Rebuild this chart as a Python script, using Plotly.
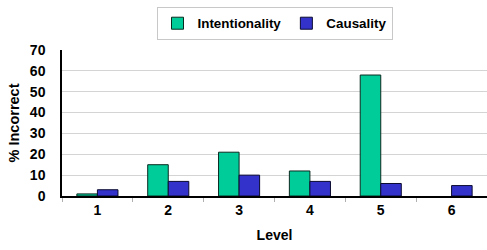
import plotly.graph_objects as go

levels = ["1", "2", "3", "4", "5", "6"]
intentionality = [1, 15, 21, 12, 58, None]
causality = [3, 7, 10, 7, 6, 5]
y_ticks = [0, 10, 20, 30, 40, 50, 60, 70]

FAM = "Liberation Sans, Arial, sans-serif"
bold14 = dict(family=FAM, size=14, color="black", weight="bold")

fig = go.Figure()
fig.add_trace(go.Bar(name="Intentionality", x=levels, y=intentionality,
                     marker=dict(color="#00CC99", line=dict(color="#0a2a20", width=1))))
fig.add_trace(go.Bar(name="Causality", x=levels, y=causality,
                     marker=dict(color="#3333CC", line=dict(color="#0a0a30", width=1))))

fig.update_layout(
    width=487, height=250,
    margin=dict(l=62, r=0, t=50, b=54, autoexpand=False),
    paper_bgcolor="white", plot_bgcolor="white",
    font=dict(family=FAM, size=13, color="black"),
    barmode="group", bargap=0.42, bargroupgap=0,
    showlegend=True,
    legend=dict(orientation="h", x=0.5, xanchor="center",
                yref="container", y=0.972, yanchor="top",
                bordercolor="#c8c8c8", borderwidth=1,
                font=dict(family=FAM, size=13.4, color="black", weight="bold"),
                itemwidth=30, tracegroupgap=0),
    xaxis=dict(
        type="category", tickson="boundaries", ticks="outside", ticklen=4,
        tickcolor="#b0b0b0", showline=True, linecolor="black", linewidth=1.5,
        showgrid=False, tickfont=bold14,
        title=dict(text="Level", font=bold14, standoff=14),
    ),
    yaxis=dict(
        range=[0, 70], tickvals=y_ticks, showline=True, linecolor="black", linewidth=1.5,
        showgrid=True, gridcolor="#d4d4d4", gridwidth=1, zeroline=False,
        ticks="", tickfont=bold14,
        ticklabelstandoff=12,
        title=dict(text="% Incorrect", font=dict(family=FAM, size=14.5, color="black", weight="bold"), standoff=7),
    ),
)

fig.write_html("out.html", config={"displayModeBar": False},
               post_script="document.body.style.margin='0px';")
